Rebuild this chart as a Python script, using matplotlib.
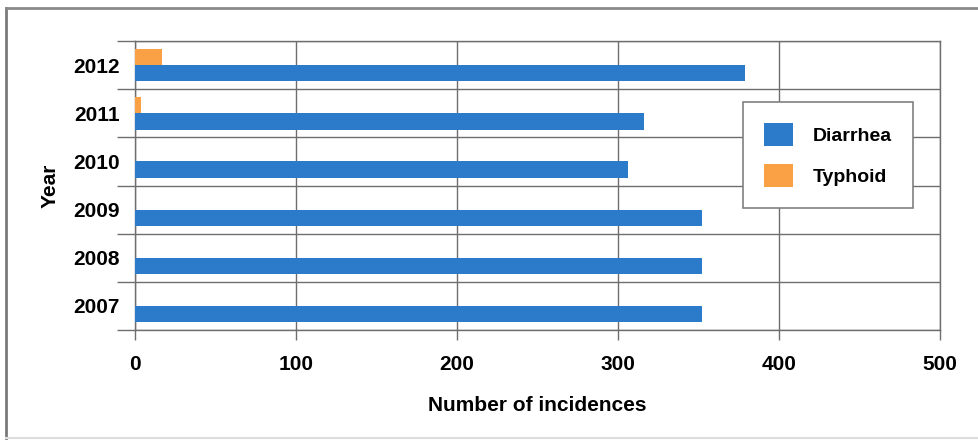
import matplotlib
matplotlib.use('Agg')
import matplotlib.pyplot as plt
from matplotlib.lines import Line2D
import numpy as np

# DATA
years = ['2007', '2008', '2009', '2010', '2011', '2012']
diarrhea = [352, 352, 352, 306, 316, 379]
typhoid = [0, 0, 0, 0, 4, 17]
x_ticks = [0, 100, 200, 300, 400, 500]

BLUE = '#2b7bca'
ORANGE = '#f9a144'
GRID = '#6e6e6e'

plt.rcParams['font.family'] = ['Liberation Sans Narrow', 'Liberation Sans', 'DejaVu Sans']
plt.rcParams['font.weight'] = 'bold'

fig = plt.figure(figsize=(9.79, 4.43), dpi=100)
ax = fig.add_axes([0.1379, 0.2551, 0.8222, 0.6523])

pos = np.arange(len(years))
h = 0.34
ax.barh(pos - h / 2, diarrhea, height=h, color=BLUE, label='Diarrhea', zorder=3)
ax.barh(pos + h / 2, typhoid, height=h, color=ORANGE, label='Typhoid', zorder=3)

ax.set_xlim(0, 500)
ax.set_ylim(-0.5, len(years) - 0.5)
ax.set_xticks(x_ticks)
ax.set_xticklabels([str(t) for t in x_ticks], fontsize=15, fontweight='bold')
ax.set_yticks(pos)
ax.set_yticklabels(years, fontsize=15, fontweight='bold')
ax.set_yticks(np.arange(-0.5, len(years), 1.0), minor=True)

ax.tick_params(axis='y', which='major', length=0, pad=11)
ax.tick_params(axis='y', which='minor', length=13, color=GRID, width=1)
ax.tick_params(axis='x', which='major', length=7, color=GRID, width=1, pad=11)

ax.grid(True, axis='x', which='major', color=GRID, linewidth=1, zorder=1)
ax.grid(True, axis='y', which='minor', color=GRID, linewidth=1, zorder=1)
for s in ax.spines.values():
    s.set_color(GRID)
    s.set_linewidth(1)

ax.set_xlabel('Number of incidences', fontsize=15, fontweight='bold', labelpad=16)
ax.set_ylabel('Year', fontsize=15, fontweight='bold', labelpad=10)

leg = ax.legend(loc='upper left', bbox_to_anchor=(0.755, 0.789), fontsize=14,
                frameon=True, fancybox=False, framealpha=1, edgecolor='#808080',
                handlelength=1.5, handleheight=1.4, handletextpad=1.0,
                labelspacing=0.95, borderpad=1.1, borderaxespad=0)
leg.get_frame().set_linewidth(1.2)

# outer frame of the picture
fig.add_artist(Line2D([6 / 979, 6 / 979], [1 - 8 / 443, 1 - 438 / 443], transform=fig.transFigure, color='#7a7a7a', lw=2))
fig.add_artist(Line2D([6 / 979, 1], [1 - 8 / 443, 1 - 8 / 443], transform=fig.transFigure, color='#8a8a8a', lw=2))
fig.add_artist(Line2D([6 / 979, 1], [1 - 438 / 443, 1 - 438 / 443], transform=fig.transFigure, color='#dddddd', lw=1.5))

fig.savefig('out.png', dpi=100)
